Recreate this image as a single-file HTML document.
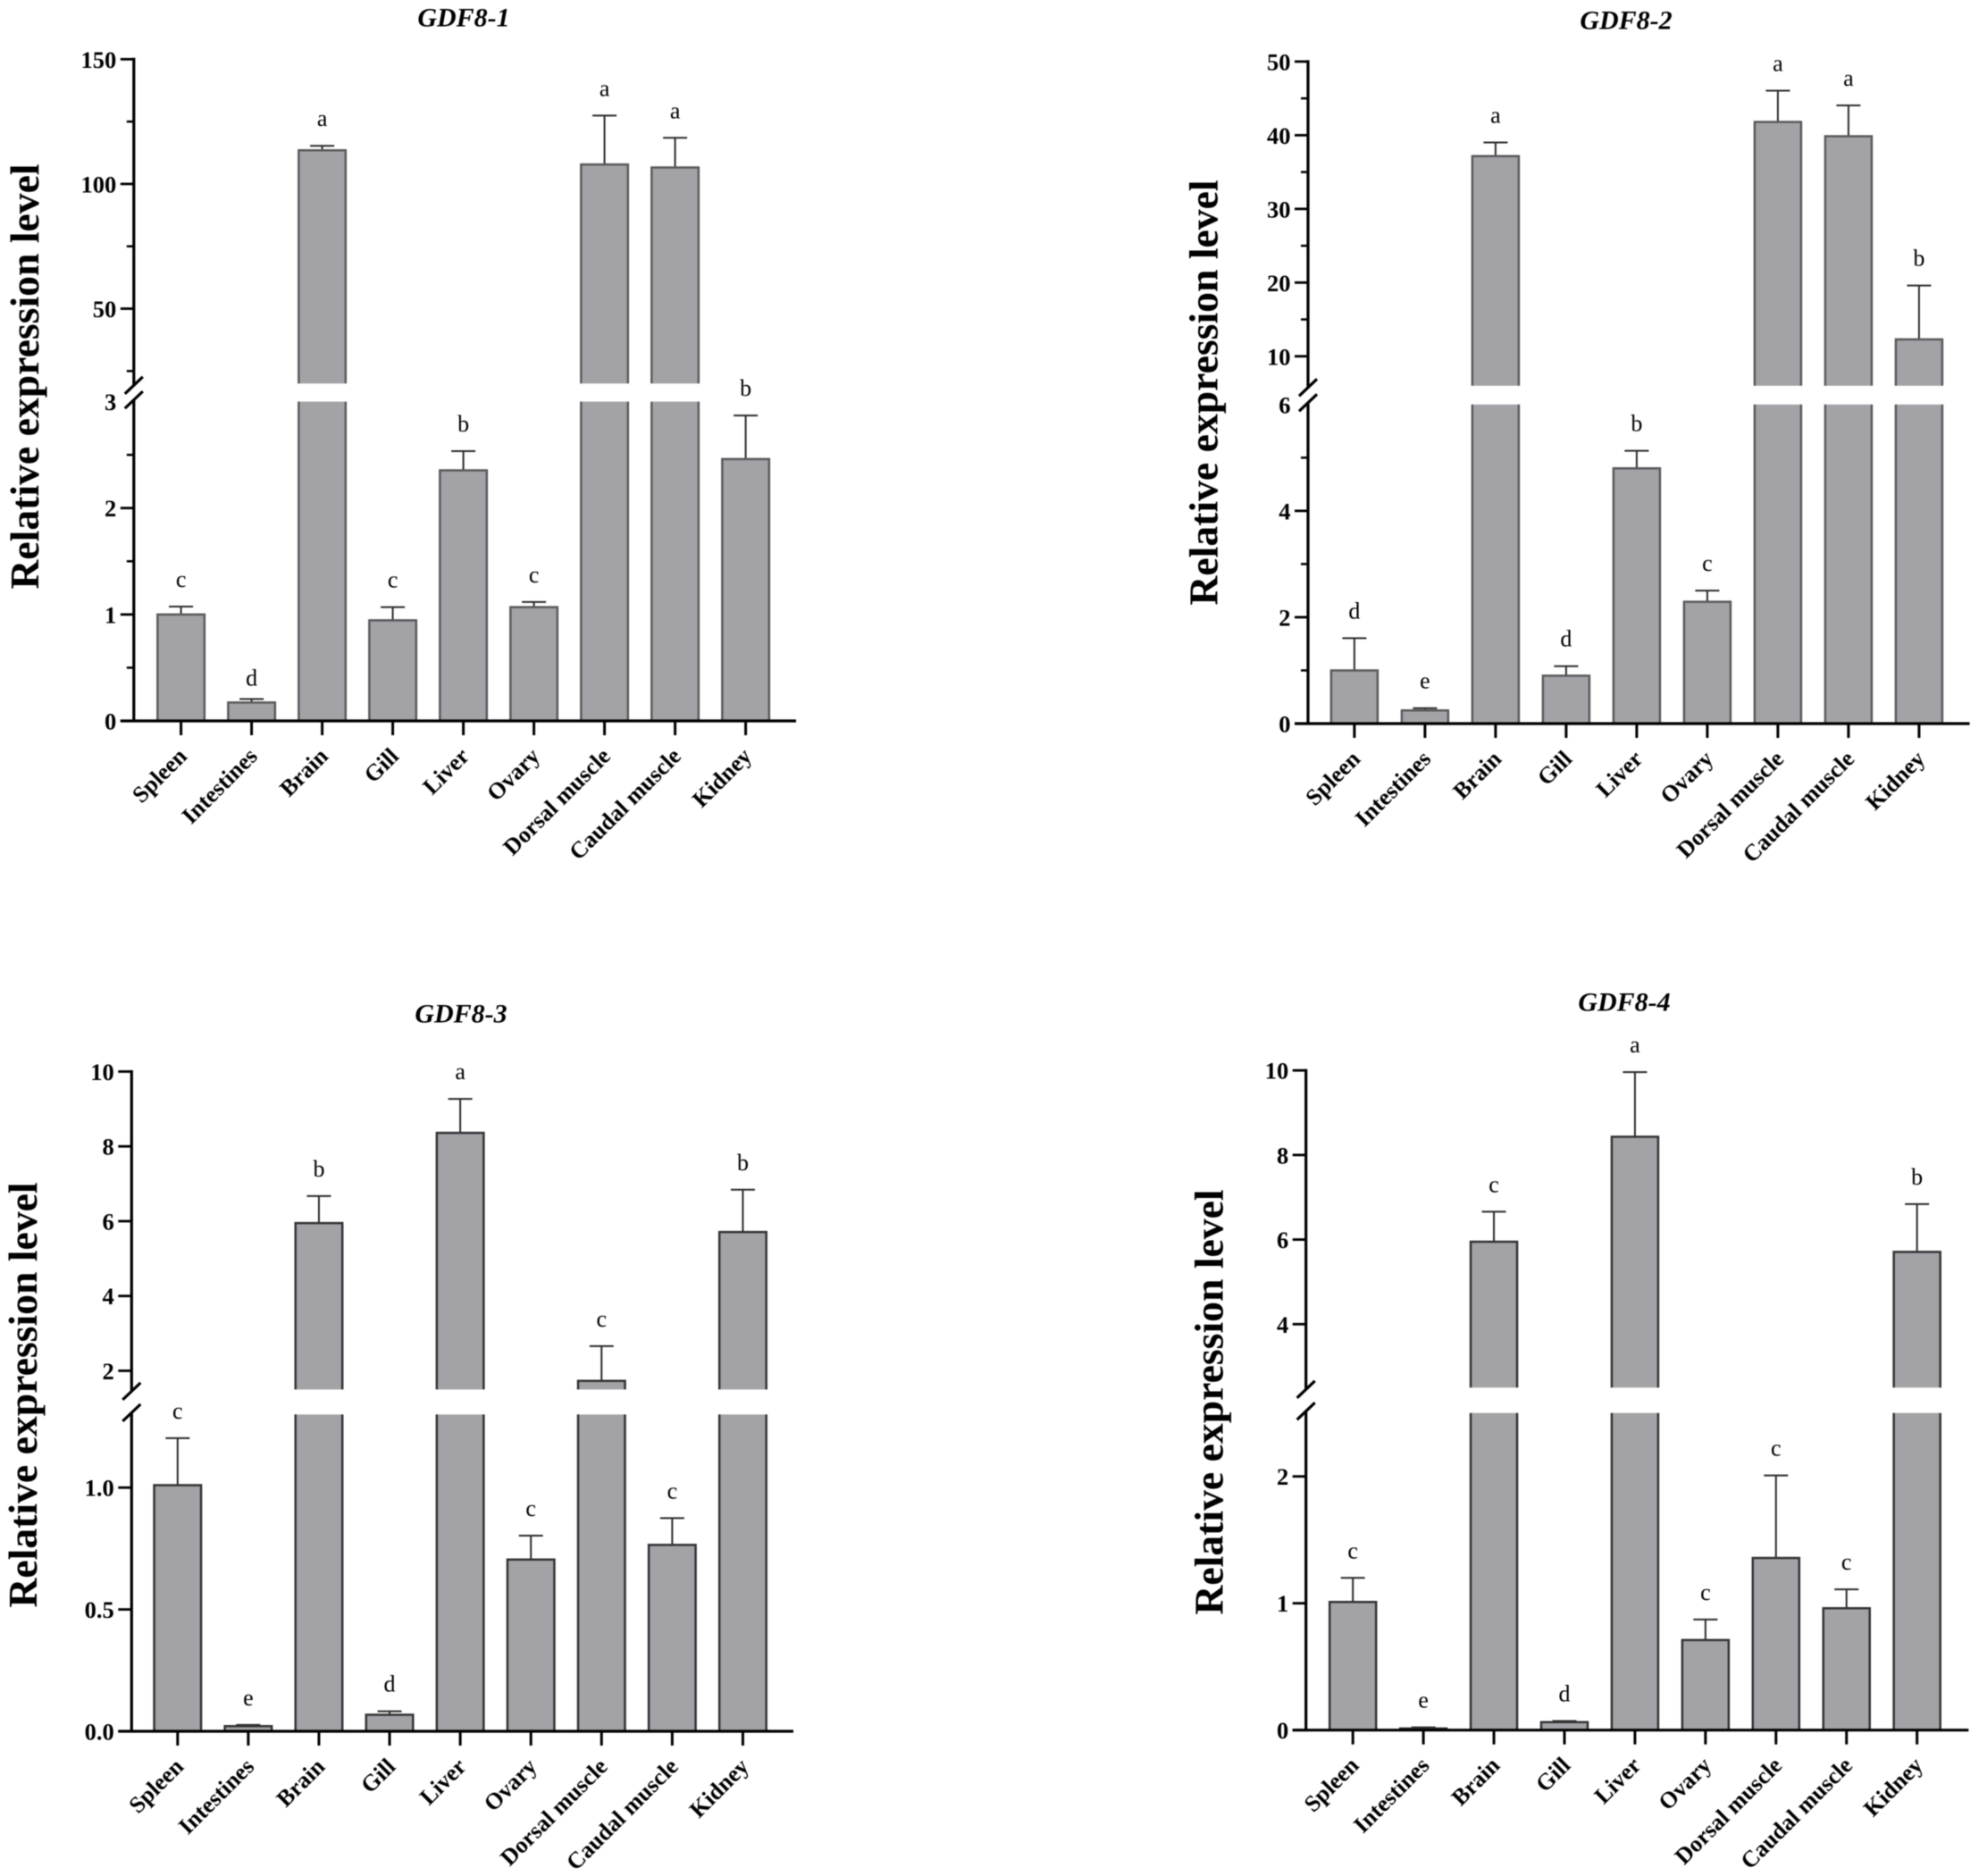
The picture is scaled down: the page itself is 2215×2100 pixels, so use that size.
<!DOCTYPE html>
<html lang="en">
<head>
<meta charset="utf-8">
<title>GDF8 relative expression by tissue</title>
<style>
html,body{margin:0;padding:0;background:#fff;}
svg{display:block;filter:blur(0.4px);}
text{font-family:"Liberation Serif","Times New Roman",serif;fill:#000;}
.tick{font-weight:bold;font-size:26.5px;text-anchor:end;}
.cat{font-weight:bold;font-size:26px;text-anchor:end;}
.sig{font-size:26px;text-anchor:middle;}
.title{font-weight:bold;font-style:italic;font-size:30px;text-anchor:middle;}
.ytitle{font-weight:bold;font-size:45.7px;text-anchor:middle;}
</style>
</head>
<body>
<svg id="figure" width="2215" height="2100" viewBox="0 0 2215 2100" xmlns="http://www.w3.org/2000/svg">
  <rect width="2215" height="2100" fill="#fff"/>
  <g id="panel-1">
    <text class="title" x="519" y="29.5">GDF8-1</text>
    <text class="ytitle" transform="translate(43 421.5) rotate(-90)">Relative expression level</text>
  </g>
  <g id="panel-2">
    <text class="title" x="1820" y="32.5">GDF8-2</text>
    <text class="ytitle" transform="translate(1362.5 439.5) rotate(-90)">Relative expression level</text>
  </g>
  <g id="panel-3">
    <text class="title" x="516" y="1144.5">GDF8-3</text>
    <text class="ytitle" transform="translate(41 1561.5) rotate(-90)">Relative expression level</text>
  </g>
  <g id="panel-4">
    <text class="title" x="1818" y="1131.5">GDF8-4</text>
    <text class="ytitle" transform="translate(1368.5 1569.5) rotate(-90)">Relative expression level</text>
  </g>
</svg>
<script>
const categories = ['Spleen', 'Intestines', 'Brain', 'Gill', 'Liver', 'Ovary', 'Dorsal muscle', 'Caudal muscle', 'Kidney'];

const gdf1Means = [1.0, 0.173, 113.5, 0.945, 2.355, 1.069, 107.8, 106.6, 2.46];
const gdf1Errors = [0.074, 0.033, 1.8, 0.124, 0.18, 0.048, 19.6, 11.9, 0.41];
const gdf1Letters = ['c', 'd', 'a', 'c', 'b', 'c', 'a', 'a', 'b'];
const gdf1UpperTicks = [50, 100, 150];
const gdf1UpperMinor = [25, 75, 125];
const gdf1LowerTicks = [0, 1, 2, 3];
const gdf1LowerMinor = [0.5, 1.5, 2.5];
const gdf1LowerLabels = ['0', '1', '2', '3'];
const gdf1UpperLabels = ['50', '100', '150'];

const gdf2Means = [1.0, 0.247, 37.16, 0.9, 4.8, 2.29, 41.8, 39.87, 12.3];
const gdf2Errors = [0.606, 0.043, 1.85, 0.18, 0.33, 0.21, 4.25, 4.18, 7.3];
const gdf2Letters = ['d', 'e', 'a', 'd', 'b', 'c', 'a', 'a', 'b'];
const gdf2UpperTicks = [10, 20, 30, 40, 50];
const gdf2UpperMinor = [15, 25, 35, 45];
const gdf2LowerTicks = [0, 2, 4, 6];
const gdf2LowerMinor = [1, 3, 5];
const gdf2LowerLabels = ['0', '2', '4', '6'];
const gdf2UpperLabels = ['10', '20', '30', '40', '50'];

const gdf3Means = [1.01, 0.021, 5.95, 0.068, 8.36, 0.705, 1.73, 0.765, 5.71];
const gdf3Errors = [0.193, 0.005, 0.72, 0.014, 0.91, 0.098, 0.93, 0.11, 1.13];
const gdf3Letters = ['c', 'e', 'b', 'd', 'a', 'c', 'c', 'c', 'b'];
const gdf3UpperTicks = [2, 4, 6, 8, 10];
const gdf3UpperMinor = [];
const gdf3LowerTicks = [0, 0.5, 1];
const gdf3LowerMinor = [];
const gdf3LowerLabels = ['0.0', '0.5', '1.0'];
const gdf3UpperLabels = ['2', '4', '6', '8', '10'];

const gdf4Means = [1.01, 0.013, 5.95, 0.063, 8.43, 0.71, 1.357, 0.961, 5.71];
const gdf4Errors = [0.19, 0.009, 0.71, 0.009, 1.53, 0.162, 0.651, 0.149, 1.13];
const gdf4Letters = ['c', 'e', 'c', 'd', 'a', 'c', 'c', 'c', 'b'];
const gdf4UpperTicks = [4, 6, 8, 10];
const gdf4UpperMinor = [];
const gdf4LowerTicks = [0, 1, 2];
const gdf4LowerMinor = [];
const gdf4LowerLabels = ['0', '1', '2'];
const gdf4UpperLabels = ['4', '6', '8', '10'];

const SVG_NS = 'http://www.w3.org/2000/svg';

function make(tag, parent, props) {
  const node = document.createElementNS(SVG_NS, tag);
  for (const key in props) node.setAttribute(key, props[key]);
  parent.appendChild(node);
  return node;
}

function drawPanel(panelId, series, layout) {
  const g = document.getElementById(panelId);
  const prefix = series.name;

  const yLower = v => layout.y0 - (v - layout.lowerMin) * (layout.y0 - layout.lowerTopY) / (layout.lowerMax - layout.lowerMin);
  const yUpper = v => layout.upperBaseY - (v - layout.upperMin) * (layout.upperBaseY - layout.topY) / (layout.upperMax - layout.upperMin);
  const yScale = v => v <= layout.lowerMax ? yLower(v) : yUpper(v);
  const xScale = i => layout.x0 + i * layout.step;
  const half = layout.barWidth / 2;

  categories.forEach((cat, i) => {
    const key = cat.toLowerCase().replace(/\s+/g, '-');
    const cx = xScale(i);
    const value = series.means[i];
    const top = yScale(value);

    const errTop = yScale(value + series.errors[i]);
    const whisker = make('path', g, {
      d: `M${cx} ${top}V${errTop}M${cx - layout.cap / 2} ${errTop}H${cx + layout.cap / 2}`,
      fill: 'none', stroke: '#2b2b2b', 'stroke-width': 2
    });
    
    

    const segments = value > layout.lowerMax
      ? [[top, layout.upperBaseY, true], [layout.lowerTopY, layout.y0, false]]
      : [[top, layout.y0, true]];
    segments.forEach((seg, s) => {
      const bar = make('rect', g, {
        x: cx - half, y: seg[0], width: layout.barWidth, height: seg[1] - seg[0], fill: '#a3a3a7'
      });
      
      
      const d = seg[2]
        ? `M${cx - half} ${seg[1]}V${seg[0]}H${cx + half}V${seg[1]}`
        : `M${cx - half} ${seg[0]}V${seg[1]}M${cx + half} ${seg[0]}V${seg[1]}`;
      const edge = make('path', g, { d: d, fill: 'none', stroke: layout.edge, 'stroke-width': 2.5 });
      
      
    });

    const nudge = (layout.letterNudge && layout.letterNudge[i]) || 0;
    const letter = make('text', g, { class: 'sig', x: cx, y: errTop - 22 + nudge });
    letter.textContent = series.letters[i];
    
    

    const tick = make('line', g, { x1: cx, x2: cx, y1: layout.y0, y2: layout.y0 + 16, stroke: '#000', 'stroke-width': 3 });
    
    

    const lx = cx + 8, ly = layout.y0 + 41;
    const label = make('text', g, { class: 'cat', x: lx, y: ly, transform: `rotate(-45 ${lx} ${ly})` });
    label.textContent = cat;
    
    
  });

  const ax = layout.axisX;
  const xAxis = make('line', g, { x1: ax - 15, x2: layout.axisEnd, y1: layout.y0, y2: layout.y0, stroke: '#000', 'stroke-width': 3.2 });
  
  

  const lowerAxis = make('line', g, { x1: ax, x2: ax, y1: layout.y0, y2: layout.lowerTopY - 2, stroke: '#000', 'stroke-width': 3.2 });
  
  

  const upperAxis = make('line', g, { x1: ax, x2: ax, y1: layout.topY - 1.5, y2: layout.upperBaseY + 2, stroke: '#000', 'stroke-width': 3.2 });
  
  

  [layout.upperBaseY + 2, layout.lowerTopY - 2].forEach((cy, s) => {
    const slash = make('line', g, { x1: ax - 10, x2: ax + 10, y1: cy + 9.5, y2: cy - 9.5, stroke: '#000', 'stroke-width': 3.2 });
    
    
  });

  function yTicks(values, labels, minor, scale, part, limit) {
    values.forEach((v, i) => {
      const y = scale(v);
      if (v !== limit) {
        const t = make('line', g, { x1: ax - 15, x2: ax, y1: y, y2: y, stroke: '#000', 'stroke-width': 2.8 });
        
        
      }
      const txt = make('text', g, { class: 'tick', x: ax - 19.5, y: y + 9.5 });
      txt.textContent = labels[i];
      
      
    });
    minor.forEach(v => {
      const y = scale(v);
      const t = make('line', g, { x1: ax - 8, x2: ax, y1: y, y2: y, stroke: '#000', 'stroke-width': 2.5 });
      
      
    });
  }
  yTicks(series.lowerTicks, series.lowerLabels, series.lowerMinor, yLower, 'lower', layout.lowerMax);
  yTicks(series.upperTicks, series.upperLabels, series.upperMinor, yUpper, 'upper', null);
}

drawPanel('panel-1',
  { name: 'gdf8-1', means: gdf1Means, errors: gdf1Errors, letters: gdf1Letters,
    upperTicks: gdf1UpperTicks, upperMinor: gdf1UpperMinor, upperLabels: gdf1UpperLabels,
    lowerTicks: gdf1LowerTicks, lowerMinor: gdf1LowerMinor, lowerLabels: gdf1LowerLabels },
  { x0: 202.6, step: 79, barWidth: 52.5, cap: 27, axisX: 149.8, axisEnd: 891, edge: '#5a5a5c',
    y0: 807, lowerTopY: 449.6, upperBaseY: 429.3, topY: 66.3,
    lowerMin: 0, lowerMax: 3, upperMin: 20, upperMax: 150, letterNudge: { 1: 7 } });

drawPanel('panel-2',
  { name: 'gdf8-2', means: gdf2Means, errors: gdf2Errors, letters: gdf2Letters,
    upperTicks: gdf2UpperTicks, upperMinor: gdf2UpperMinor, upperLabels: gdf2UpperLabels,
    lowerTicks: gdf2LowerTicks, lowerMinor: gdf2LowerMinor, lowerLabels: gdf2LowerLabels },
  { x0: 1515.9, step: 79, barWidth: 52, cap: 27, axisX: 1464, axisEnd: 2204.5, edge: '#5a5a5c',
    y0: 810, lowerTopY: 452.8, upperBaseY: 431.8, topY: 68.9,
    lowerMin: 0, lowerMax: 6, upperMin: 6, upperMax: 50 });

drawPanel('panel-3',
  { name: 'gdf8-3', means: gdf3Means, errors: gdf3Errors, letters: gdf3Letters,
    upperTicks: gdf3UpperTicks, upperMinor: gdf3UpperMinor, upperLabels: gdf3UpperLabels,
    lowerTicks: gdf3LowerTicks, lowerMinor: gdf3LowerMinor, lowerLabels: gdf3LowerLabels },
  { x0: 198.8, step: 79.08, barWidth: 52.5, cap: 27, axisX: 147.3, axisEnd: 888, edge: '#333335',
    y0: 1938, lowerTopY: 1583.4, upperBaseY: 1555.4, topY: 1199.5,
    lowerMin: 0, lowerMax: 1.3, upperMin: 1.5, upperMax: 10 });

drawPanel('panel-4',
  { name: 'gdf8-4', means: gdf4Means, errors: gdf4Errors, letters: gdf4Letters,
    upperTicks: gdf4UpperTicks, upperMinor: gdf4UpperMinor, upperLabels: gdf4UpperLabels,
    lowerTicks: gdf4LowerTicks, lowerMinor: gdf4LowerMinor, lowerLabels: gdf4LowerLabels },
  { x0: 1514.2, step: 78.93, barWidth: 52, cap: 27, axisX: 1461.7, axisEnd: 2203.3, edge: '#333335',
    y0: 1936.7, lowerTopY: 1581.7, upperBaseY: 1553.3, topY: 1198.2,
    lowerMin: 0, lowerMax: 2.5, upperMin: 2.5, upperMax: 10 });
</script>
</body>
</html>
